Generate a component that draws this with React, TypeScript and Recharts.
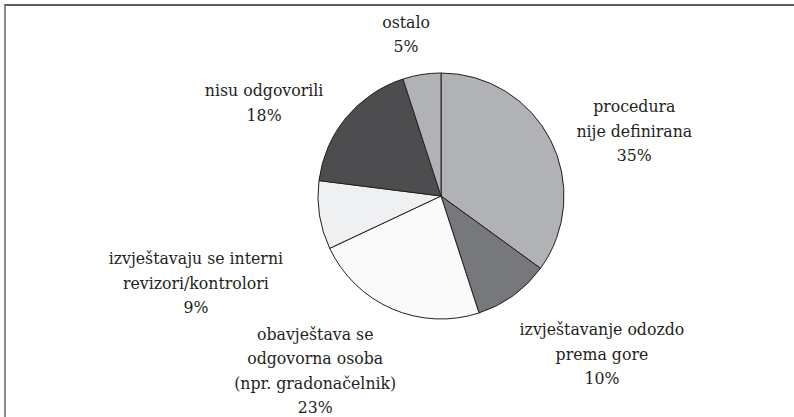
import React from "react";
import { PieChart, Pie, Cell } from "recharts";

const categories = [
  "procedura nije definirana",
  "izvještavanje odozdo prema gore",
  "obavještava se odgovorna osoba (npr. gradonačelnik)",
  "izvještavaju se interni revizori/kontrolori",
  "nisu odgovorili",
  "ostalo",
];
const values = [35, 10, 23, 9, 18, 5];
const labelLines = [
  ["procedura", "nije definirana"],
  ["izvještavanje odozdo", "prema gore"],
  ["obavještava se", "odgovorna osoba", "(npr. gradonačelnik)"],
  ["izvještavaju se interni", "revizori/kontrolori"],
  ["nisu odgovorili"],
  ["ostalo"],
];
const colors = ["#b1b2b5", "#77787b", "#fafafa", "#eff0f2", "#4d4d4f", "#b1b2b5"];
// label nudges relative to a point 30px outside the slice, along its mid-angle
const labelOffsets = [
  [57, 4],
  [71, 34],
  [-65, 34],
  [-94, 63],
  [-59, 4],
  [-11, -11],
];

const data = categories.map((name, i) => ({ name, value: values[i] }));

const FONT = '"DejaVu Serif Condensed", "DejaVu Serif", serif';
const LINE_H = 24.5;

const renderLabel = (props: any) => {
  const { cx, cy, midAngle, outerRadius, index, value } = props;
  const RAD = Math.PI / 180;
  const R = outerRadius + 30;
  const x = cx + R * Math.cos(-midAngle * RAD) + labelOffsets[index][0];
  const y = cy + R * Math.sin(-midAngle * RAD) + labelOffsets[index][1];
  const lines = [...labelLines[index], `${value}%`];
  const top = y - ((lines.length - 1) * LINE_H) / 2;
  return (
    <g key={`lbl-${index}`}>
      {lines.map((t, k) => (
        <text
          key={k}
          x={x}
          y={top + k * LINE_H}
          textAnchor="middle"
          dominantBaseline="central"
          style={{ fontFamily: FONT, fontSize: 17.5, fill: "#231f20" }}
        >
          {t}
        </text>
      ))}
    </g>
  );
};

export default function App() {
  return (
    <div style={{ position: "absolute", left: 0, top: 0, width: 794, height: 417, background: "#fff", fontFamily: FONT }}>
      <div
        style={{
          position: "absolute",
          left: 4,
          top: 4,
          right: 0,
          bottom: 0,
          borderTop: "2px solid #5e5e5e",
          borderLeft: "2px solid #8a8a8a",
        }}
      />
      <div style={{ position: "absolute", left: 0, top: 0 }}>
        <PieChart width={794} height={417} margin={{ top: 0, right: 0, bottom: 0, left: 0 }}>
          <Pie
            data={data}
            dataKey="value"
            nameKey="name"
            cx={441}
            cy={196}
            outerRadius={123}
            startAngle={90}
            endAngle={-270}
            stroke="#231f20"
            strokeWidth={1}
            label={renderLabel}
            labelLine={false}
            isAnimationActive={false}
          >
            {data.map((d, i) => (
              <Cell key={d.name} fill={colors[i]} />
            ))}
          </Pie>
        </PieChart>
      </div>
    </div>
  );
}
